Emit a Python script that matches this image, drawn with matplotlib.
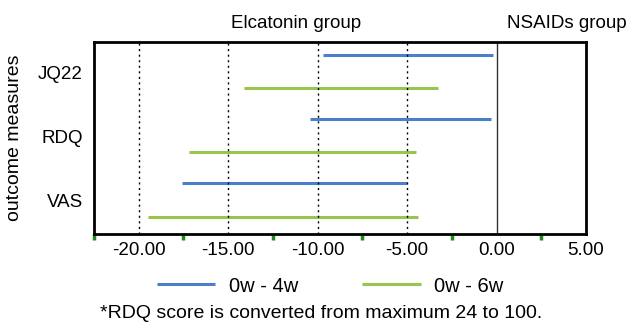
import matplotlib
matplotlib.use("Agg")
import matplotlib.pyplot as plt
from matplotlib.transforms import offset_copy

plt.rcParams['font.family'] = ['Liberation Sans', 'DejaVu Sans']

measures = ["JQ22", "RDQ", "VAS"]
series = ["0w - 4w", "0w - 6w"]
colors = ["#4a7fcb", "#9bc44f"]
# (start, end) of each horizontal range, per measure
ranges_4w = [(-9.7, -0.2), (-10.4, -0.3), (-17.6, -5.0)]
ranges_6w = [(-14.1, -3.3), (-17.2, -4.5), (-19.5, -4.4)]
xticks = [-20, -15, -10, -5, 0, 5]
xticklabels = ["-20.00", "-15.00", "-10.00", "-5.00", "0.00", "5.00"]
minor_ticks = [-22.5, -17.5, -12.5, -7.5, -2.5, 2.5]

fig = plt.figure(figsize=(6.30, 3.32), dpi=100)
ax = fig.add_axes([94/630, 1-234/332, (586-94)/630, (234-42)/332])

offsets = [-0.27, 0.25]
handles = []
for s, (rng, col, off) in enumerate(zip([ranges_4w, ranges_6w], colors, offsets)):
    for i, (a, b) in enumerate(rng):
        h, = ax.plot([a, b], [i + off, i + off], color=col, lw=2.2, solid_capstyle='butt')
    handles.append(h)

for x in xticks[:4]:
    ax.axvline(x, color='black', lw=1, ls=(0, (1.5, 2.5)))
ax.axvline(0, color='#333333', lw=1)

ax.set_xlim(-22.5, 5.0)
ax.set_ylim(2.52, -0.47)
ax.set_yticks(range(len(measures)))
ax.set_yticklabels(measures, fontsize=13.5)
ax.set_xticks(xticks)
ax.set_xticklabels(xticklabels, fontsize=13.5)
ax.set_xticks(minor_ticks, minor=True)
ax.tick_params(axis='y', which='major', length=0, pad=8)
ax.tick_params(axis='x', which='major', length=0, pad=6)
ax.tick_params(axis='x', which='minor', length=4, width=2.5, color='#1e8c1e', direction='out')
for sp in ax.spines.values():
    sp.set_linewidth(2)
ax.set_ylabel("outcome measures", fontsize=14)
ax.yaxis.set_label_coords(-71/492, 0.5)

tr = offset_copy(ax.get_xaxis_transform(), fig=fig, x=0, y=14, units='dots')
ax.text(-11.2, 1.0, "Elcatonin group", transform=tr,
        ha='center', va='baseline', fontsize=13.5)
ax.text(3.95, 1.0, "NSAIDs group", transform=tr,
        ha='center', va='baseline', fontsize=13.5, clip_on=False)

fig.legend(handles, series, loc='center', bbox_to_anchor=(330/630, 1-286/332), ncol=2,
           frameon=False, fontsize=14.5, handlelength=2.9, columnspacing=3.2,
           handletextpad=0.65, borderpad=0)
fig.text(321/630, 1-314/332, "*RDQ score is converted from maximum 24 to 100.",
         ha='center', va='center', fontsize=14)

fig.savefig("out.png", dpi=100)
